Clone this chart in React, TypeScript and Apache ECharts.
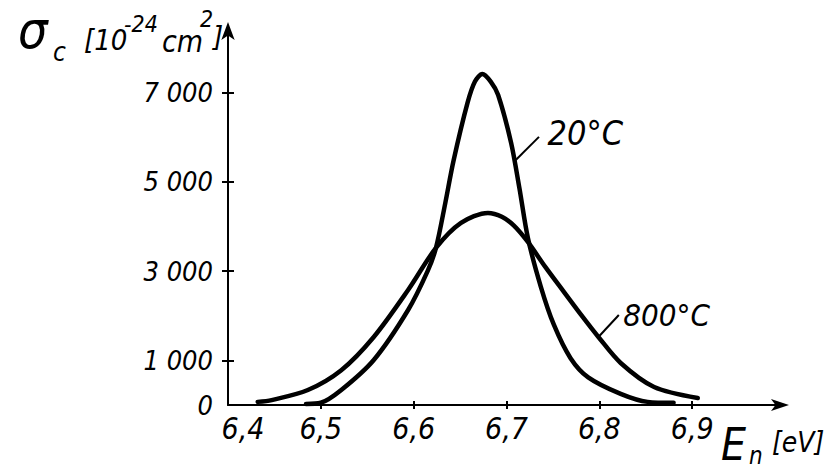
import React, { useEffect, useRef } from "react";
import * as echarts from "echarts";

// Neutron energy E_n [eV] and capture cross-section sigma_c [1e-24 cm^2]
const energy20 = [6.484, 6.5, 6.522, 6.557, 6.594, 6.615, 6.624, 6.634, 6.643, 6.658, 6.666, 6.674, 6.683, 6.691, 6.705, 6.714, 6.723, 6.737, 6.751, 6.769, 6.788, 6.823, 6.852, 6.88];
const sigma20 = [25, 50, 336, 1009, 2130, 3000, 3520, 4520, 5480, 6771, 7250, 7420, 7250, 6950, 5874, 4850, 3750, 2650, 1800, 1050, 620, 250, 70, 50];

const energy800 = [6.432, 6.447, 6.486, 6.522, 6.557, 6.594, 6.624, 6.651, 6.68, 6.695, 6.708, 6.723, 6.742, 6.762, 6.78, 6.799, 6.823, 6.859, 6.906];
const sigma800 = [70, 110, 336, 780, 1525, 2578, 3520, 4080, 4305, 4220, 4020, 3655, 3090, 2530, 2030, 1525, 942, 404, 157];

const xTickValues = [6.5, 6.6, 6.7, 6.8, 6.9];
const xLabelValues = [6.4, 6.5, 6.6, 6.7, 6.8, 6.9];
const yTickValues = [1000, 3000, 5000, 7000];
const yLabelValues = [0, 1000, 3000, 5000, 7000];
const yLabelTexts = ["0", "1 000", "3 000", "5 000", "7 000"];

// leader lines for curve labels [E, sigma] start -> end
const leader20 = [[6.71, 5493], [6.735, 6009]];
const leader800 = [[6.799, 1525], [6.821, 2018]];
const seriesNames = ["20°C", "800°C"];

const FONT = "'Liberation Sans Narrow', 'DejaVu Sans Condensed', 'Liberation Sans', sans-serif";

export default function App() {
  const ref = useRef<HTMLDivElement>(null);
  useEffect(() => {
    if (!ref.current) return;
    const chart = echarts.init(ref.current, null, { renderer: "svg" });
    const txt = { fontFamily: FONT, fontStyle: "italic" as const, color: "#000" };
    const axisLineStyle = { color: "#000", width: 2 };
    const t = (text: string, x: number, y: number, fontSize: number) => ({
      type: "text",
      x,
      y,
      style: { text, fontSize, fontFamily: FONT, fontStyle: "italic", fill: "#000", textAlign: "left", textVerticalAlign: "middle" },
    });
    const makeLeader = (pts: number[][], name: string, dist: number, off: number[], size: number) => ({
      markLine: {
        silent: true,
        symbol: ["none", "none"],
        lineStyle: { color: "#000", width: 2, type: "solid" },
        label: { show: false },
        data: [[{ coord: pts[0] }, { coord: pts[1] }]],
      },
      markPoint: {
        silent: true,
        data: [
          {
            coord: pts[1],
            symbol: "circle",
            symbolSize: 1,
            itemStyle: { color: "rgba(0,0,0,0)" },
            label: {
              show: true,
              position: "right",
              distance: dist,
              offset: off,
              formatter: name,
              ...txt,
              fontSize: size,
            },
          },
        ],
      },
    });
    const lineSeries = (name: string, xs: number[], ys: number[]) => ({
      name,
      type: "line",
      smooth: 0.3,
      showSymbol: false,
      lineStyle: { color: "#000", width: 4.5, cap: "round", join: "round" },
      itemStyle: { color: "#000" },
      data: xs.map((e, i) => [e, ys[i]]),
    });
    chart.setOption({
      animation: false,
      grid: { left: 228, right: 55, top: 28, bottom: 64 },
      xAxis: [
        {
          type: "value",
          min: 6.4,
          max: 7.0,
          position: "bottom",
          splitLine: { show: false },
          axisLine: { show: true, onZero: false, symbol: ["none", "arrow"], symbolSize: [9, 18], symbolOffset: [0, 4], lineStyle: axisLineStyle },
          axisTick: { show: true, customValues: xTickValues, length: 4, lineStyle: axisLineStyle },
          axisLabel: {
            customValues: xLabelValues,
            margin: 8,
            ...txt,
            fontSize: 30,
            formatter: (v: number) => {
              const s = v.toFixed(1).replace(".", ",");
              return Math.abs(v - 6.4) < 1e-6 ? "{first|" + s + "}" : s;
            },
            rich: { first: { ...txt, fontSize: 30, padding: [0, 0, 0, 30] } },
          },
        },
        {
          type: "value",
          min: 6.4,
          max: 7.0,
          position: "bottom",
          splitLine: { show: false },
          axisLine: { show: false },
          axisTick: { show: true, inside: true, customValues: xTickValues, length: 4, lineStyle: axisLineStyle },
          axisLabel: { show: false },
        },
      ],
      yAxis: [
        {
          type: "value",
          min: 0,
          max: 8450,
          position: "left",
          splitLine: { show: false },
          axisLine: { show: true, onZero: false, symbol: ["none", "arrow"], symbolSize: [10, 18], symbolOffset: [0, 6], lineStyle: axisLineStyle },
          axisTick: { show: true, customValues: yTickValues, length: 6, lineStyle: axisLineStyle },
          axisLabel: {
            customValues: yLabelValues,
            margin: 15,
            ...txt,
            fontSize: 27,
            formatter: (v: number) => yLabelTexts[yLabelValues.indexOf(v)] ?? String(v),
          },
        },
        {
          type: "value",
          min: 0,
          max: 8450,
          position: "left",
          splitLine: { show: false },
          axisLine: { show: false },
          axisTick: { show: true, inside: true, customValues: yTickValues, length: 6, lineStyle: axisLineStyle },
          axisLabel: { show: false },
        },
      ],
      series: [
        { ...lineSeries(seriesNames[0], energy20, sigma20), ...makeLeader(leader20, seriesNames[0], 8, [0, -4], 34) },
        { ...lineSeries(seriesNames[1], energy800, sigma800), ...makeLeader(leader800, seriesNames[1], 4, [0, 0], 31) },
      ],
      graphic: [
        t("σ", 18, 30, 52),
        t("c", 53, 52, 26),
        t("[10", 84, 40, 29),
        t("-24", 124, 24, 23),
        t("cm", 162, 41, 30),
        t("2", 200, 19, 23),
        t("]", 213, 37, 29),
        t("E", 721, 444, 44),
        t("n", 749, 456, 24),
        t("[eV]", 772, 442, 28),
      ],
    });
    return () => chart.dispose();
  }, []);
  return <div ref={ref} style={{ position: "fixed", left: 0, top: 0, width: 840, height: 469, background: "#fff" }} />;
}
